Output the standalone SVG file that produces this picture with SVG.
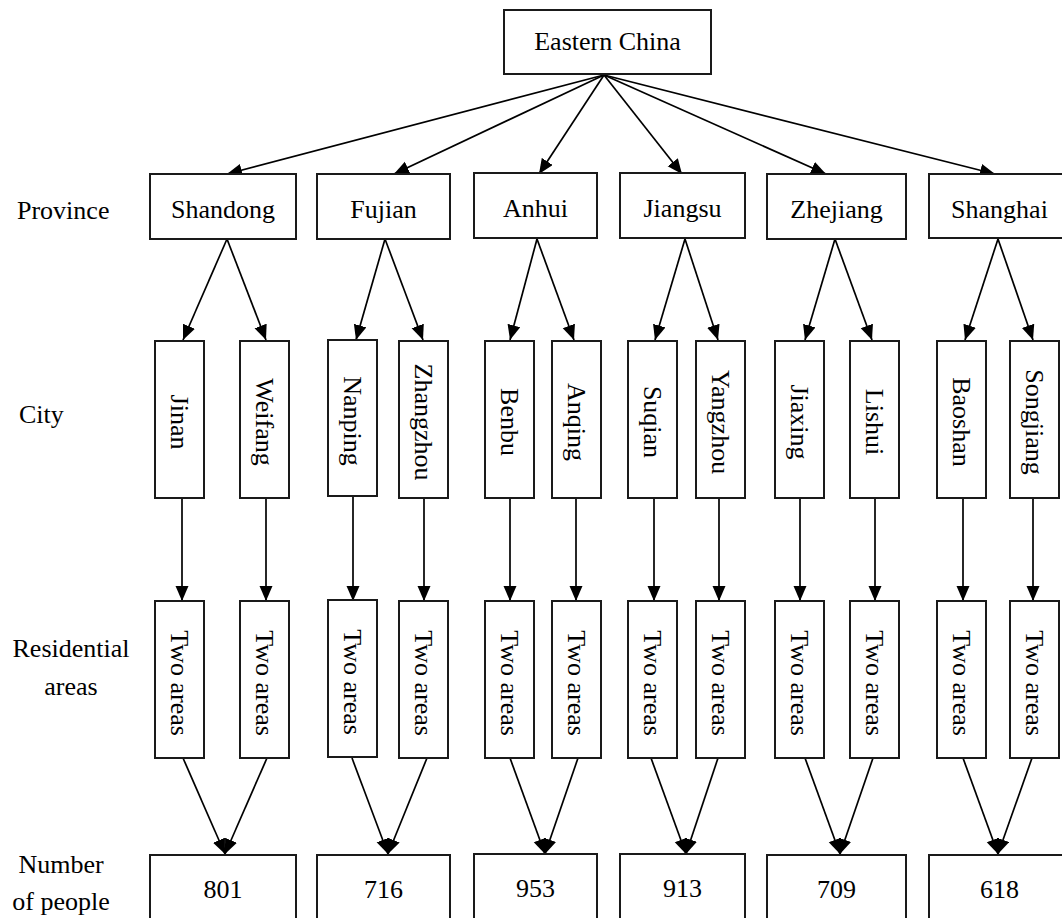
<svg xmlns="http://www.w3.org/2000/svg" width="1062" height="918" viewBox="0 0 1062 918">
<style>
.box{fill:#fff;stroke:#1a1a1a;stroke-width:2}
.t{font-family:"Liberation Serif","Times New Roman",serif;font-size:26px;fill:#000;text-anchor:middle}
.lbl{font-family:"Liberation Serif","Times New Roman",serif;font-size:26px;fill:#000}
.c{fill:none;stroke:#000;stroke-width:1.7;marker-end:url(#ah)}
</style>
<defs>
<marker id="ah" markerUnits="userSpaceOnUse" markerWidth="16" markerHeight="14" refX="15" refY="6.5" orient="auto">
<path d="M0,0 L15,6.5 L0,13 z" fill="#000"/>
</marker>
</defs>
<rect width="1062" height="918" fill="#fff"/>

<g id="row-labels">
<text class="lbl" x="17" y="219">Province</text>
<text class="lbl" x="19" y="423">City</text>
<text class="t" x="71" y="657">Residential</text>
<text class="t" x="71" y="695">areas</text>
<text class="t" x="61" y="873">Number</text>
<text class="t" x="61" y="910">of people</text>
</g>

<g id="connectors">
<line class="c" x1="604" y1="75" x2="227" y2="174"/>
<line class="c" x1="604" y1="75" x2="394" y2="174"/>
<line class="c" x1="604" y1="75" x2="539" y2="174"/>
<line class="c" x1="604" y1="75" x2="682" y2="174"/>
<line class="c" x1="604" y1="75" x2="826" y2="174"/>
<line class="c" x1="604" y1="75" x2="995" y2="174"/>

<line class="c" x1="227" y1="239" x2="183" y2="340"/>
<line class="c" x1="227" y1="239" x2="266" y2="340"/>
<line class="c" x1="385" y1="239" x2="356" y2="340"/>
<line class="c" x1="385" y1="239" x2="423" y2="340"/>
<line class="c" x1="537" y1="239" x2="510" y2="340"/>
<line class="c" x1="537" y1="239" x2="574" y2="340"/>
<line class="c" x1="685" y1="239" x2="655" y2="340"/>
<line class="c" x1="685" y1="239" x2="718" y2="340"/>
<line class="c" x1="835" y1="239" x2="805" y2="340"/>
<line class="c" x1="835" y1="239" x2="872" y2="340"/>
<line class="c" x1="998" y1="239" x2="965" y2="340"/>
<line class="c" x1="998" y1="239" x2="1033" y2="340"/>

<line class="c" x1="182" y1="498" x2="182" y2="601"/>
<line class="c" x1="266" y1="498" x2="266" y2="601"/>
<line class="c" x1="353" y1="496" x2="353" y2="601"/>
<line class="c" x1="424" y1="498" x2="424" y2="601"/>
<line class="c" x1="510" y1="498" x2="510" y2="601"/>
<line class="c" x1="576" y1="498" x2="576" y2="601"/>
<line class="c" x1="654" y1="498" x2="654" y2="601"/>
<line class="c" x1="719" y1="498" x2="719" y2="601"/>
<line class="c" x1="800" y1="498" x2="800" y2="601"/>
<line class="c" x1="875" y1="498" x2="875" y2="601"/>
<line class="c" x1="963" y1="498" x2="963" y2="601"/>
<line class="c" x1="1033" y1="498" x2="1033" y2="601"/>

<line class="c" x1="183" y1="758" x2="225" y2="854"/>
<line class="c" x1="267" y1="758" x2="225" y2="854"/>
<line class="c" x1="352" y1="758" x2="388" y2="854"/>
<line class="c" x1="427" y1="758" x2="388" y2="854"/>
<line class="c" x1="510" y1="758" x2="545" y2="854"/>
<line class="c" x1="578" y1="758" x2="545" y2="854"/>
<line class="c" x1="651" y1="758" x2="686" y2="854"/>
<line class="c" x1="718" y1="758" x2="686" y2="854"/>
<line class="c" x1="805" y1="758" x2="840" y2="854"/>
<line class="c" x1="873" y1="758" x2="840" y2="854"/>
<line class="c" x1="963" y1="758" x2="998" y2="854"/>
<line class="c" x1="1032" y1="758" x2="998" y2="854"/>
</g>

<g id="eastern-china"><rect class="box" x="504" y="10" width="207" height="64"/><text class="t" x="607.5" y="50">Eastern China</text></g>

<g id="shandong"><rect class="box" x="150" y="174" width="146" height="65"/><text class="t" x="223" y="218">Shandong</text></g>
<g id="fujian"><rect class="box" x="317" y="174" width="133" height="65"/><text class="t" x="383.5" y="218">Fujian</text></g>
<g id="anhui"><rect class="box" x="474" y="173" width="123" height="65"/><text class="t" x="535.5" y="217">Anhui</text></g>
<g id="jiangsu"><rect class="box" x="620" y="173" width="125" height="65"/><text class="t" x="682.5" y="217">Jiangsu</text></g>
<g id="zhejiang"><rect class="box" x="767" y="174" width="139" height="65"/><text class="t" x="836.5" y="218">Zhejiang</text></g>
<g id="shanghai"><rect class="box" x="929" y="174" width="141" height="64"/><text class="t" x="999.5" y="218">Shanghai</text></g>

<g id="jinan"><rect class="box" x="155" y="341" width="49" height="157"/><text class="t" transform="translate(179.5,422) rotate(90)" y="8.6">Jinan</text></g>
<g id="weifang"><rect class="box" x="240" y="341" width="49" height="157"/><text class="t" transform="translate(264.5,422) rotate(90)" y="8.6">Weifang</text></g>
<g id="nanping"><rect class="box" x="328" y="340" width="49" height="156"/><text class="t" transform="translate(352.5,421) rotate(90)" y="8.6">Nanping</text></g>
<g id="zhangzhou"><rect class="box" x="399" y="341" width="49" height="157"/><text class="t" transform="translate(423.5,422) rotate(90)" y="8.6">Zhangzhou</text></g>
<g id="benbu"><rect class="box" x="485" y="341" width="49" height="157"/><text class="t" transform="translate(509.5,422) rotate(90)" y="8.6">Benbu</text></g>
<g id="anqing"><rect class="box" x="552" y="341" width="49" height="157"/><text class="t" transform="translate(576.5,422) rotate(90)" y="8.6">Anqing</text></g>
<g id="suqian"><rect class="box" x="628" y="341" width="49" height="157"/><text class="t" transform="translate(652.5,422) rotate(90)" y="8.6">Suqian</text></g>
<g id="yangzhou"><rect class="box" x="696" y="341" width="49" height="157"/><text class="t" transform="translate(720.5,422) rotate(90)" y="8.6">Yangzhou</text></g>
<g id="jiaxing"><rect class="box" x="775" y="341" width="49" height="157"/><text class="t" transform="translate(799.5,422) rotate(90)" y="8.6">Jiaxing</text></g>
<g id="lishui"><rect class="box" x="850" y="341" width="49" height="157"/><text class="t" transform="translate(874.5,422) rotate(90)" y="8.6">Lishui</text></g>
<g id="baoshan"><rect class="box" x="937" y="341" width="49" height="157"/><text class="t" transform="translate(961.5,422) rotate(90)" y="8.6">Baoshan</text></g>
<g id="songjiang"><rect class="box" x="1010" y="341" width="49" height="157"/><text class="t" transform="translate(1034.5,422) rotate(90)" y="8.6">Songjiang</text></g>

<g id="area-jinan"><rect class="box" x="155" y="601" width="49" height="157"/><text class="t" transform="translate(179.5,683) rotate(90)" y="8.6">Two areas</text></g>
<g id="area-weifang"><rect class="box" x="240" y="601" width="49" height="157"/><text class="t" transform="translate(264.5,683) rotate(90)" y="8.6">Two areas</text></g>
<g id="area-nanping"><rect class="box" x="328" y="600" width="49" height="157"/><text class="t" transform="translate(352.5,682) rotate(90)" y="8.6">Two areas</text></g>
<g id="area-zhangzhou"><rect class="box" x="399" y="601" width="49" height="157"/><text class="t" transform="translate(423.5,683) rotate(90)" y="8.6">Two areas</text></g>
<g id="area-benbu"><rect class="box" x="485" y="601" width="49" height="157"/><text class="t" transform="translate(509.5,683) rotate(90)" y="8.6">Two areas</text></g>
<g id="area-anqing"><rect class="box" x="552" y="601" width="49" height="157"/><text class="t" transform="translate(576.5,683) rotate(90)" y="8.6">Two areas</text></g>
<g id="area-suqian"><rect class="box" x="628" y="601" width="49" height="157"/><text class="t" transform="translate(652.5,683) rotate(90)" y="8.6">Two areas</text></g>
<g id="area-yangzhou"><rect class="box" x="696" y="601" width="49" height="157"/><text class="t" transform="translate(720.5,683) rotate(90)" y="8.6">Two areas</text></g>
<g id="area-jiaxing"><rect class="box" x="775" y="601" width="49" height="157"/><text class="t" transform="translate(799.5,683) rotate(90)" y="8.6">Two areas</text></g>
<g id="area-lishui"><rect class="box" x="850" y="601" width="49" height="157"/><text class="t" transform="translate(874.5,683) rotate(90)" y="8.6">Two areas</text></g>
<g id="area-baoshan"><rect class="box" x="937" y="601" width="49" height="157"/><text class="t" transform="translate(961.5,683) rotate(90)" y="8.6">Two areas</text></g>
<g id="area-songjiang"><rect class="box" x="1010" y="601" width="49" height="157"/><text class="t" transform="translate(1034.5,683) rotate(90)" y="8.6">Two areas</text></g>

<g id="num-shandong"><rect class="box" x="150" y="855" width="146" height="80"/><text class="t" x="223" y="898">801</text></g>
<g id="num-fujian"><rect class="box" x="317" y="855" width="133" height="80"/><text class="t" x="383.5" y="898">716</text></g>
<g id="num-anhui"><rect class="box" x="474" y="854" width="123" height="80"/><text class="t" x="535.5" y="897">953</text></g>
<g id="num-jiangsu"><rect class="box" x="620" y="854" width="125" height="80"/><text class="t" x="682.5" y="897">913</text></g>
<g id="num-zhejiang"><rect class="box" x="767" y="855" width="139" height="80"/><text class="t" x="836.5" y="898">709</text></g>
<g id="num-shanghai"><rect class="box" x="929" y="855" width="141" height="80"/><text class="t" x="999.5" y="898">618</text></g>
</svg>
